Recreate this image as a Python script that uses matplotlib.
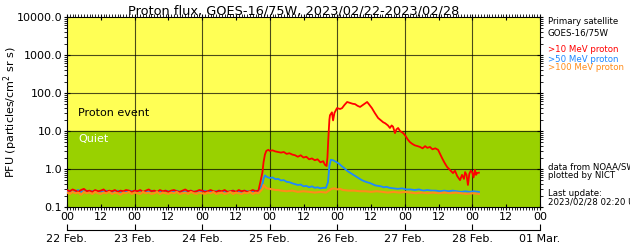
import numpy as np
import matplotlib
matplotlib.use("Agg")
import matplotlib.pyplot as plt
from matplotlib.ticker import FixedLocator, FixedFormatter, LogLocator, NullFormatter

base_hours = np.arange(69)

red_base = [0.28, 0.26, 0.29, 0.27, 0.25, 0.28, 0.30, 0.26, 0.27, 0.25, 0.28, 0.26,
            0.27, 0.29, 0.25, 0.27, 0.26, 0.28, 0.25, 0.27, 0.26, 0.28, 0.27, 0.25,
            0.27, 0.26, 0.28, 0.25, 0.27, 0.29, 0.26, 0.27, 0.25, 0.28, 0.26, 0.27,
            0.25, 0.27, 0.28, 0.26, 0.25, 0.27, 0.29, 0.26, 0.27, 0.25, 0.26, 0.28,
            0.27, 0.25, 0.26, 0.28, 0.26, 0.25, 0.27, 0.26, 0.28, 0.25, 0.26, 0.27,
            0.25, 0.28, 0.26, 0.27, 0.25, 0.26, 0.28, 0.26, 0.27]
blue_base = [0.26, 0.27, 0.25, 0.26, 0.28, 0.25, 0.26, 0.27, 0.25, 0.26, 0.27, 0.25,
             0.26, 0.25, 0.27, 0.26, 0.25, 0.26, 0.27, 0.25, 0.26, 0.25, 0.27, 0.26,
             0.25, 0.26, 0.27, 0.25, 0.26, 0.25, 0.27, 0.26, 0.25, 0.26, 0.25, 0.27,
             0.26, 0.25, 0.26, 0.27, 0.25, 0.26, 0.25, 0.26, 0.27, 0.25, 0.26, 0.25,
             0.26, 0.27, 0.25, 0.26, 0.25, 0.26, 0.27, 0.25, 0.26, 0.25, 0.26, 0.27,
             0.25, 0.26, 0.25, 0.27, 0.26, 0.25, 0.26, 0.27, 0.26]
orange_base = [0.24, 0.22, 0.25, 0.23, 0.24, 0.21, 0.25, 0.23, 0.24, 0.22, 0.25, 0.23,
               0.22, 0.24, 0.23, 0.25, 0.22, 0.24, 0.23, 0.21, 0.24, 0.23, 0.25, 0.22,
               0.24, 0.23, 0.22, 0.25, 0.23, 0.24, 0.22, 0.23, 0.25, 0.22, 0.24, 0.23,
               0.22, 0.24, 0.23, 0.25, 0.22, 0.23, 0.24, 0.22, 0.25, 0.23, 0.22, 0.24,
               0.23, 0.22, 0.24, 0.23, 0.25, 0.22, 0.23, 0.24, 0.22, 0.23, 0.25, 0.22,
               0.24, 0.23, 0.22, 0.24, 0.23, 0.25, 0.22, 0.24, 0.23]

# Event period (hours, PFU)
red_ev_t = [69.4, 69.8, 70.3, 70.8, 71.5, 72, 73, 74, 75, 76, 77, 78, 79, 80, 81, 82,
            83, 84, 85, 86, 87, 88, 89, 90, 91, 91.6, 92.2, 92.5, 92.8, 93.2, 93.4, 94.1,
            94.5, 95, 95.9, 97, 97.7, 98.5, 99.5, 100.5, 101.5, 102.3, 103.2, 104.1, 105,
            106, 106.6, 107.3, 108.3, 109.3, 110.5, 111.5, 112.3, 113, 114, 114.7, 115.3,
            115.8, 116.5, 117, 117.6, 118.3, 119.4, 120.2, 121, 121.8, 122.6, 123.5, 124.5,
            125.4, 126.3, 127.2, 128, 128.9, 129.8, 130.8, 131.8, 132.5, 133.2, 134, 135,
            136, 137.1, 137.8, 138.6, 139.6, 140.3, 141, 141.4, 141.9, 142.4, 142.9, 143.4,
            143.9, 144.4, 144.9, 145.3, 145.6, 146.3]
red_ev = [0.8, 1.5, 2.4, 3.0, 3.2, 3.0, 3.1, 2.9, 2.8, 2.7, 2.8, 2.5, 2.6, 2.4, 2.3, 2.1,
          2.3, 2.0, 2.1, 1.8, 1.9, 1.7, 1.8, 1.5, 1.6, 1.3, 1.2, 2.0, 6, 20, 26, 31,
          19, 30, 40, 38, 40, 48, 58, 55, 52, 51, 46, 43, 48,
          54, 58, 50, 40, 30, 22, 19, 17, 16, 14, 12, 14,
          13, 8.8, 11, 12, 10, 8.8, 7.5, 6.0, 5.1, 4.6, 4.2, 4.0,
          3.8, 3.5, 4.0, 3.6, 3.8, 3.3, 3.5, 3.2, 2.5, 1.95, 1.5, 1.13,
          0.95, 0.78, 0.9, 0.65, 0.51, 0.7, 0.55, 0.83, 0.7, 0.38, 0.75, 0.9,
          0.83, 0.6, 0.95, 0.7, 0.78, 0.8]

blue_ev_t = [69.4, 69.8, 70.3, 71, 72, 73, 74, 75, 76, 77, 78, 79, 80, 81, 82, 83, 84,
             85, 86, 87, 88, 89, 90, 91, 92, 92.7, 93.2, 93.7, 94.5, 95.5, 96.5, 97.5,
             98.5, 99.5, 100.5, 101.5, 102.5, 103.5, 104.5, 105.5, 106.5, 107.5, 108.5,
             109.5, 110.5, 111.5, 112.5, 113.5, 114.5, 116, 117.5, 119, 120.5, 122, 123.5,
             125, 126.5, 128, 129.5, 131, 132.5, 134, 135.5, 137, 138.5, 140, 141.5, 143,
             144.5, 146.3]
blue_ev = [0.40, 0.55, 0.68, 0.62, 0.58, 0.60, 0.54, 0.55, 0.50, 0.51, 0.46, 0.45, 0.42,
           0.40, 0.38, 0.39, 0.35, 0.36, 0.33, 0.35, 0.32, 0.33, 0.31, 0.32, 0.32, 0.45,
           1.2, 1.75, 1.7, 1.55, 1.4, 1.2, 1.05, 0.9, 0.8, 0.72, 0.65, 0.58, 0.52, 0.48,
           0.45, 0.43, 0.40, 0.37, 0.36, 0.35, 0.33, 0.34, 0.32, 0.31, 0.30, 0.31, 0.29,
           0.29, 0.28, 0.29, 0.27, 0.28, 0.27, 0.27, 0.26, 0.27, 0.26, 0.27, 0.26, 0.25,
           0.26, 0.25, 0.26, 0.25]

orange_ev_t = [69.4, 69.8, 70.3, 71, 72, 73, 74, 75, 76, 78, 80, 82, 84, 86, 88, 90, 92,
               93, 94, 95, 96, 97, 98, 100, 102, 104, 106, 108, 110, 112, 114, 116, 118,
               120, 122, 124, 126, 128, 130, 132, 134, 136, 138, 140, 142, 144, 146.3]
orange_ev = [0.30, 0.38, 0.34, 0.31, 0.30, 0.29, 0.28, 0.28, 0.27, 0.26, 0.27, 0.25,
             0.26, 0.25, 0.24, 0.25, 0.24, 0.27, 0.30, 0.31, 0.29, 0.30, 0.28, 0.27,
             0.27, 0.26, 0.26, 0.25, 0.26, 0.25, 0.24, 0.25, 0.24, 0.25, 0.24, 0.23,
             0.24, 0.23, 0.24, 0.23, 0.24, 0.23, 0.24, 0.23, 0.22, 0.23, 0.22]

day_labels = ["22 Feb.", "23 Feb.", "24 Feb.", "25 Feb.", "26 Feb.", "27 Feb.", "28 Feb.", "01 Mar."]
ylabels = ["0.1", "1.0", "10.0", "100.0", "1000.0", "10000.0"]

red_t = np.concatenate([base_hours, red_ev_t])
red_v = np.concatenate([red_base, red_ev])
blue_t = np.concatenate([base_hours, blue_ev_t])
blue_v = np.concatenate([blue_base, blue_ev])
orange_t = np.concatenate([base_hours, orange_ev_t])
orange_v = np.concatenate([orange_base, orange_ev])

RED = "#ff0000"
BLUE = "#1e88ff"
ORANGE = "#ff8c1a"

fig = plt.figure(figsize=(6.3, 2.46), dpi=100)
ax = fig.add_axes([67 / 630, 1 - 207 / 246, 473 / 630, 190 / 246])

# Background levels
ax.axhspan(10, 10000, color="#ffff55", zorder=0)
ax.axhspan(0.1, 10, color="#99d100", zorder=0)

ax.plot(blue_t, blue_v, color=BLUE, lw=1.3, zorder=3)
ax.plot(red_t, red_v, color=RED, lw=1.3, zorder=3)
ax.plot(orange_t, orange_v, color=ORANGE, lw=1.5, zorder=3)

ax.set_yscale("log")
ax.set_ylim(0.1, 10000)
ax.set_xlim(0, 168)

# Grid at each day and decade
for d in range(24, 168, 24):
    ax.axvline(d, color="black", lw=0.8, alpha=0.7, zorder=1)
for yv in [1, 10, 100, 1000]:
    ax.axhline(yv, color="black", lw=0.8, alpha=0.7, zorder=1)

ax.xaxis.set_major_locator(FixedLocator(range(0, 169, 12)))
ax.xaxis.set_major_formatter(FixedFormatter(["00", "12"] * 7 + ["00"]))
ax.xaxis.set_minor_locator(FixedLocator(range(0, 169)))
ax.yaxis.set_major_locator(FixedLocator([0.1, 1, 10, 100, 1000, 10000]))
ax.yaxis.set_major_formatter(FixedFormatter(ylabels))
ax.yaxis.set_minor_locator(LogLocator(base=10, subs=range(2, 10)))
ax.yaxis.set_minor_formatter(NullFormatter())
ax.tick_params(which="major", direction="inout", length=5, width=0.8,
               top=True, right=True, labelsize=8, pad=1)
ax.tick_params(which="minor", direction="out", length=2, width=0.6,
               top=True, right=True)

ax.set_ylabel("PFU (particles/cm$^2$ sr s)", fontsize=8)
ax.yaxis.set_label_coords(-47 / 473, 0.5)
ax.set_title("Proton flux, GOES-16/75W, 2023/02/22-2023/02/28", fontsize=9.3, pad=2, x=0.48)

ax.text(4, 30, "Proton event", fontsize=8, color="black", va="center")
ax.text(4, 6.0, "Quiet", fontsize=8, color="white", va="center")

# Date axis below
ax2 = fig.add_axes([67 / 630, 1 - 230 / 246, 473 / 630, 0.0001])
ax2.set_xlim(0, 168)
ax2.set_yticks([])
for s in ["top", "left", "right"]:
    ax2.spines[s].set_visible(False)
ax2.set_facecolor("none")
ax2.xaxis.set_major_locator(FixedLocator(range(0, 169, 24)))
ax2.xaxis.set_major_formatter(FixedFormatter(day_labels))
ax2.tick_params(axis="x", direction="in", length=4, labelsize=8, pad=3)

# Side annotations
fs = 6.2
fig.text(548 / 630, 1 - 22 / 246, "Primary satellite", fontsize=fs, va="center")
fig.text(548 / 630, 1 - 33 / 246, "GOES-16/75W", fontsize=fs, va="center")
fig.text(548 / 630, 1 - 50 / 246, ">10 MeV proton", fontsize=fs, color=RED, va="center")
fig.text(548 / 630, 1 - 59 / 246, ">50 MeV proton", fontsize=fs, color=BLUE, va="center")
fig.text(548 / 630, 1 - 68 / 246, ">100 MeV proton", fontsize=fs, color=ORANGE, va="center")
fig.text(548 / 630, 1 - 167 / 246, "data from NOAA/SWPC", fontsize=fs, va="center")
fig.text(548 / 630, 1 - 176 / 246, "plotted by NICT", fontsize=fs, va="center")
fig.text(548 / 630, 1 - 193 / 246, "Last update:", fontsize=fs, va="center")
fig.text(548 / 630, 1 - 202 / 246, "2023/02/28 02:20 UT", fontsize=fs, va="center")

fig.savefig("out.png", dpi=100)
